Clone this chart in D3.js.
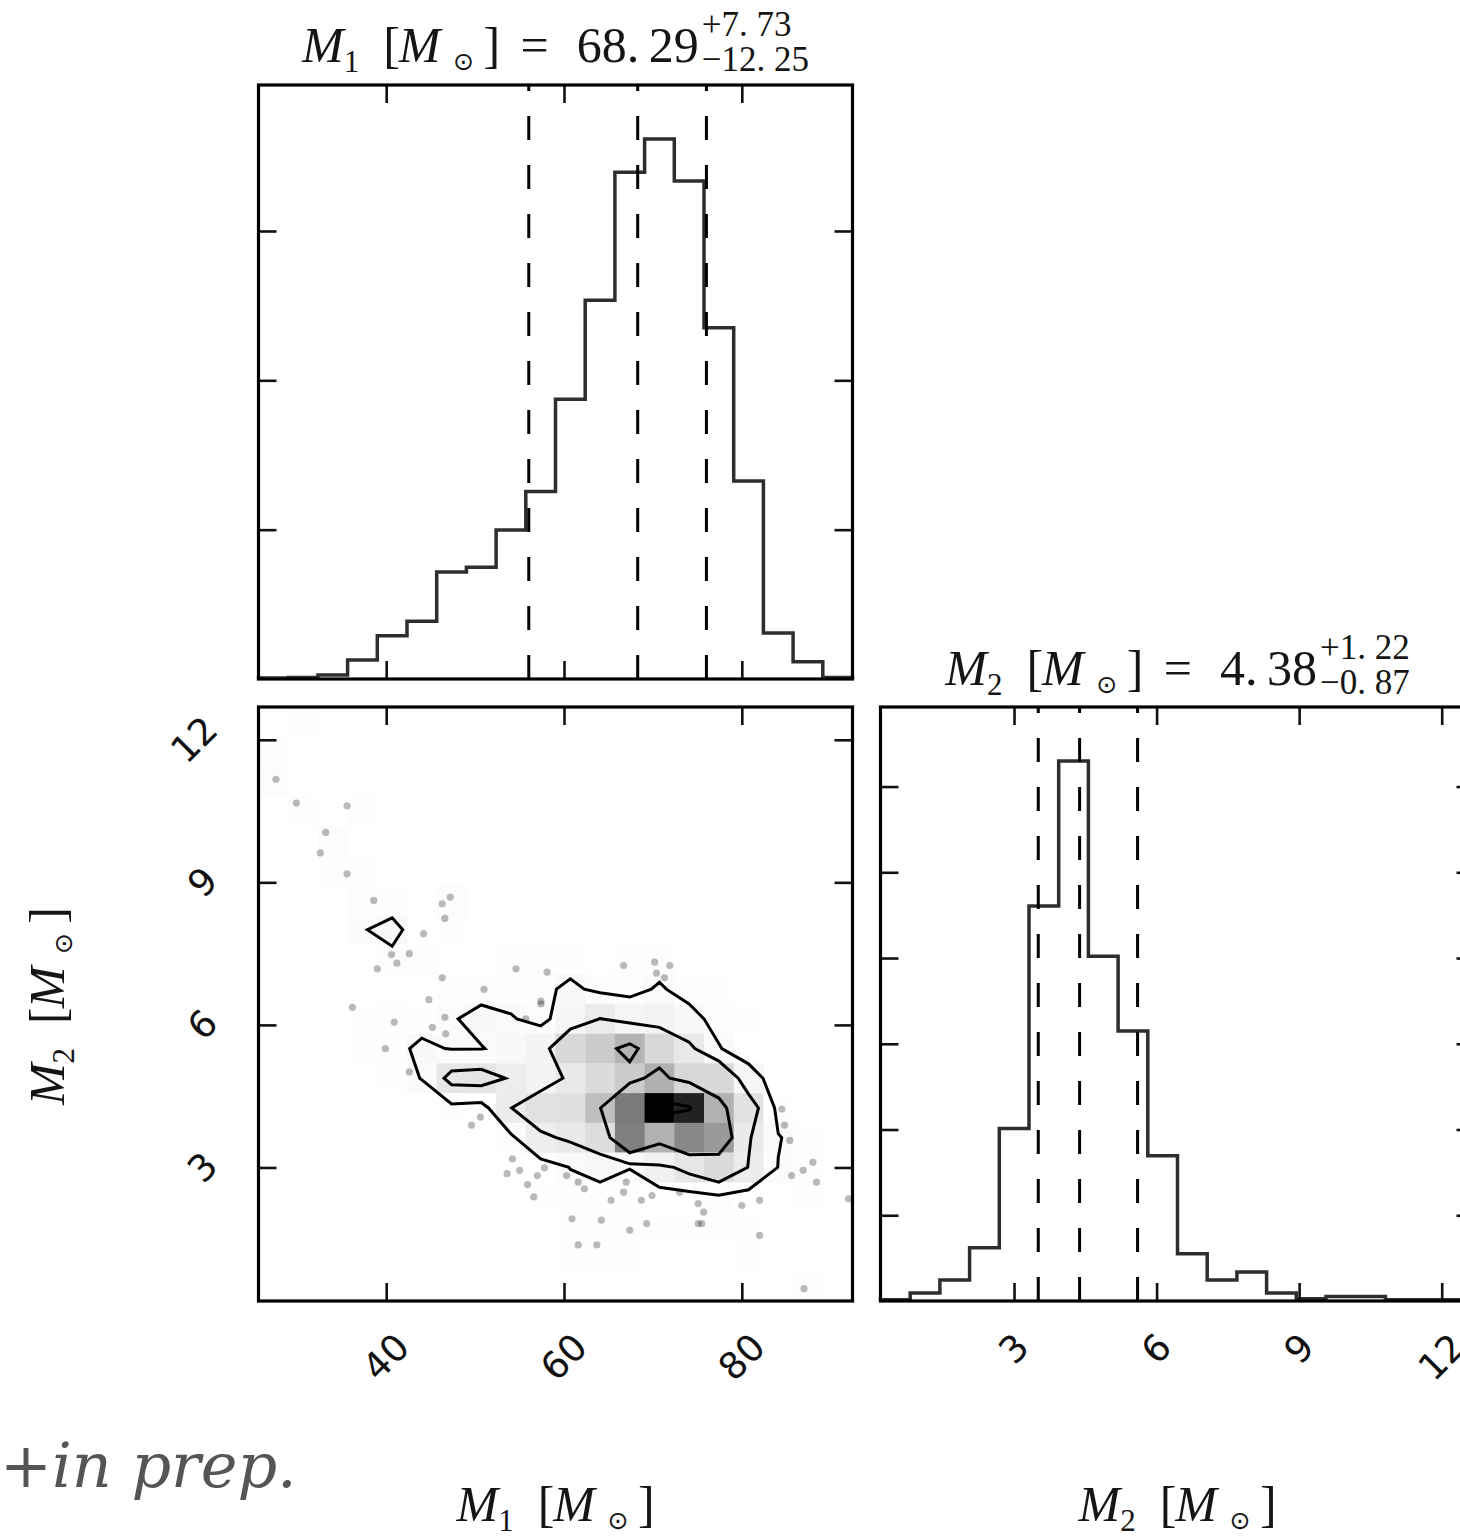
<!DOCTYPE html>
<html>
<head>
<meta charset="utf-8">
<script src="https://cdnjs.cloudflare.com/ajax/libs/d3/7.8.5/d3.min.js"></script>
<style>
  body { margin: 0; background: #fff; }
  svg { display: block; }
</style>
</head>
<body>
<svg id="chart" width="1460" height="1537"></svg>
<script>
// axis ranges of the two parameters (20 bins each)
var m1Domain = [25.64, 92.45];
var m2Domain = [0.19, 12.69];

// marginal histograms (counts per bin)
var m1Counts = [3, 5, 13, 64, 145, 193, 358, 374, 499, 628, 937, 1268, 1697, 1808, 1667, 1176, 663, 154, 58, 5];
var m2Counts = [8, 46, 123, 310, 1006, 2304, 3149, 2010, 1574, 847, 276, 123, 169, 46, 13, 26, 26, 8, 8, 8];

// 16 / 50 / 84 percent lines
var m1Quantiles = [56.04, 68.29, 76.02];
var m2Quantiles = [3.51, 4.38, 5.60];

var m1Ticks = [40, 60, 80];
var m2Ticks = [3, 6, 9, 12];
var m1CountTicks = [500, 1000, 1500];
var m2CountTicks = [500, 1000, 1500, 2000, 2500, 3000];

// joint 2d histogram, top row (highest M2) first, columns follow M1
var jointCounts = [
  [0, 8, 0, 0, 0, 0, 0, 0, 0, 0, 0, 0, 0, 0, 0, 0, 0, 0, 0, 0],
  [8, 0, 0, 0, 0, 0, 0, 0, 0, 0, 0, 0, 0, 0, 0, 0, 0, 0, 0, 0],
  [10, 0, 0, 0, 0, 0, 0, 0, 0, 0, 0, 0, 0, 0, 0, 0, 0, 0, 0, 0],
  [0, 8, 0, 8, 0, 0, 0, 0, 0, 0, 0, 0, 0, 0, 0, 0, 0, 0, 0, 0],
  [0, 0, 10, 0, 0, 0, 0, 0, 0, 0, 0, 0, 0, 0, 0, 0, 0, 0, 0, 0],
  [0, 0, 8, 4, 0, 0, 0, 0, 0, 0, 0, 0, 0, 0, 0, 0, 0, 0, 0, 0],
  [0, 0, 0, 8, 3, 0, 10, 0, 0, 0, 0, 0, 0, 0, 0, 0, 0, 0, 0, 0],
  [0, 0, 0, 16, 28, 0, 8, 0, 0, 0, 0, 0, 0, 0, 0, 0, 0, 0, 0, 0],
  [0, 0, 0, 0, 10, 6, 0, 0, 8, 8, 5, 0, 10, 8, 0, 0, 0, 0, 0, 0],
  [0, 0, 0, 0, 0, 0, 8, 10, 8, 10, 25, 10, 10, 21, 8, 3, 0, 0, 0, 0],
  [0, 0, 0, 5, 6, 5, 16, 25, 20, 10, 35, 76, 40, 45, 28, 8, 3, 0, 0, 0],
  [0, 0, 0, 3, 8, 25, 16, 17, 25, 44, 150, 200, 290, 150, 88, 20, 0, 0, 0, 0],
  [0, 0, 0, 0, 5, 19, 94, 100, 69, 45, 85, 140, 200, 303, 150, 150, 35, 0, 0, 0],
  [0, 0, 0, 0, 0, 0, 6, 0, 74, 115, 120, 245, 511, 980, 850, 300, 110, 5, 0, 0],
  [0, 0, 0, 0, 0, 0, 0, 0, 10, 64, 85, 130, 488, 300, 457, 388, 80, 20, 3, 0],
  [0, 0, 0, 0, 0, 0, 0, 0, 0, 0, 19, 31, 19, 55, 96, 140, 73, 17, 5, 0],
  [0, 0, 0, 0, 0, 0, 0, 0, 0, 5, 5, 5, 3, 0, 0, 10, 0, 0, 3, 0],
  [0, 0, 0, 0, 0, 0, 0, 0, 0, 0, 5, 5, 5, 5, 3, 3, 3, 0, 0, 0],
  [0, 0, 0, 0, 0, 0, 0, 0, 0, 0, 3, 3, 3, 0, 0, 0, 3, 0, 0, 0],
  [0, 0, 0, 0, 0, 0, 0, 0, 0, 0, 0, 0, 0, 0, 0, 0, 0, 0, 2, 0]
];
// contour levels (2, 1.5, 1, 0.5 sigma) in the same count units
var contourLevels = [18, 75, 250, 820];

// samples visible outside the outer contour [M1, M2]
var samples = [
  [27.6, 11.17], [29.9, 10.67], [35.6, 10.61], [33.2, 10.05], [32.6, 9.62], [35.6, 9.18],
  [38.6, 8.62], [46.3, 8.55], [47.2, 8.69], [46.6, 8.24], [44.2, 7.92], [40.6, 7.48],
  [42.6, 7.50], [41.2, 7.30], [39.0, 7.18], [46.3, 6.99], [51.0, 6.75], [54.6, 7.18],
  [58.1, 7.11], [44.8, 6.53], [57.4, 6.50], [36.2, 6.37], [40.9, 6.06], [39.9, 5.50],
  [42.6, 5.01], [45.2, 5.95], [46.7, 5.81], [46.6, 6.16], [49.6, 3.89], [50.6, 4.06],
  [54.2, 3.18], [53.6, 2.87], [55.0, 2.94], [55.9, 2.64], [56.6, 2.38], [57.0, 2.83],
  [57.8, 2.99], [55.7, 6.13], [57.4, 6.44], [66.7, 7.25], [70.2, 7.32], [71.9, 7.25],
  [70.4, 7.09], [71.3, 6.99], [60.3, 2.83], [61.6, 2.69], [62.3, 2.55], [66.7, 2.48],
  [65.3, 2.31], [67.0, 2.69], [69.9, 2.41], [68.7, 2.31], [73.0, 2.48], [75.1, 2.24],
  [75.7, 2.06], [75.1, 1.82], [75.5, 1.82], [80.0, 2.20], [82.0, 2.31], [82.0, 1.57],
  [60.9, 1.92], [64.2, 1.89], [67.4, 1.68], [69.3, 1.82], [61.6, 1.37], [63.7, 1.37],
  [84.5, 4.23], [84.8, 3.89], [85.4, 3.57], [85.6, 2.83], [86.9, 2.94], [88.0, 3.11],
  [88.4, 2.69], [87.0, 0.45], [92.0, 2.34]
];

var size = 594, gap = 28;
var panelLeft = 258.5, panelTop = 85;
var serif = "'Liberation Serif', 'DejaVu Serif', serif";
var sans = "'DejaVu Sans', sans-serif";
var tickLen = 18;
var labelFs = 50;

var svg = d3.select("#chart");

var x1 = d3.scaleLinear().domain(m1Domain).range([0, size]);
var x2 = d3.scaleLinear().domain(m2Domain).range([0, size]);
var yJoint = d3.scaleLinear().domain(m2Domain).range([size, 0]);
var yH1 = d3.scaleLinear().domain([0, 1.1 * d3.max(m1Counts)]).range([size, 0]);
var yH2 = d3.scaleLinear().domain([0, 1.1 * d3.max(m2Counts)]).range([size, 0]);

var gH1 = svg.append("g").attr("transform", "translate(" + panelLeft + "," + panelTop + ")");
var gJ = svg.append("g").attr("transform", "translate(" + panelLeft + "," + (panelTop + size + gap) + ")");
var gH2 = svg.append("g").attr("transform", "translate(" + (panelLeft + size + gap) + "," + (panelTop + size + gap) + ")");

function stepPoints(counts, domain) {
  var w = (domain[1] - domain[0]) / counts.length;
  var pts = [[domain[0], 0]];
  counts.forEach(function(c, i) {
    pts.push([domain[0] + i * w, c]);
    pts.push([domain[0] + (i + 1) * w, c]);
  });
  pts.push([domain[1], 0]);
  return pts;
}

function drawHist(g, counts, domain, xs, ys, quants) {
  var line = d3.line().x(function(d) { return xs(d[0]); }).y(function(d) { return ys(d[1]); });
  g.append("path")
    .attr("d", line(stepPoints(counts, domain)))
    .attr("fill", "none")
    .attr("stroke", "#2e2e2e")
    .attr("stroke-width", 3.5)
    .attr("stroke-linejoin", "miter");

  g.selectAll("line.quantile").data(quants).enter().append("line")
    .attr("class", "quantile")
    .attr("x1", function(d) { return xs(d); })
    .attr("x2", function(d) { return xs(d); })
    .attr("y1", size).attr("y2", 0)
    .attr("stroke", "#000")
    .attr("stroke-width", 3)
    .attr("stroke-dasharray", "24,25");
}

function drawTicks(g, xs, xVals, ys, yVals) {
  g.append("g").call(d3.axisBottom(xs).tickValues(xVals).tickSize(tickLen).tickFormat(""));
  g.append("g").attr("transform", "translate(0," + size + ")")
    .call(d3.axisTop(xs).tickValues(xVals).tickSize(tickLen).tickFormat(""));
  g.append("g").call(d3.axisRight(ys).tickValues(yVals).tickSize(tickLen).tickFormat(""));
  g.append("g").attr("transform", "translate(" + size + ",0)")
    .call(d3.axisLeft(ys).tickValues(yVals).tickSize(tickLen).tickFormat(""));
  g.selectAll(".domain").remove();
  g.selectAll(".tick line").attr("stroke", "#111").attr("stroke-width", 2.6);
  g.append("rect")
    .attr("width", size).attr("height", size)
    .attr("fill", "none").attr("stroke", "#000").attr("stroke-width", 3.2);
}

// rotated tick labels, placed like matplotlib (rotated box hung off the axis)
var tickFs = 37;
function xTickLabels(g, xs, vals) {
  vals.forEach(function(v) {
    var t = g.append("text")
      .attr("font-family", sans).attr("font-size", tickFs)
      .attr("text-anchor", "middle").attr("dominant-baseline", "central")
      .attr("fill", "#111")
      .text(v);
    var w = t.node().getComputedTextLength();
    var box = (w + 0.73 * tickFs) / Math.SQRT2;
    var cy = size + 30 + box / 2;
    t.attr("transform", "translate(" + xs(v) + "," + cy + ") rotate(-45)");
  });
}
function yTickLabels(g, ys, vals) {
  vals.forEach(function(v) {
    var t = g.append("text")
      .attr("font-family", sans).attr("font-size", tickFs)
      .attr("text-anchor", "middle").attr("dominant-baseline", "central")
      .attr("fill", "#111")
      .text(v);
    var w = t.node().getComputedTextLength();
    var box = (w + 0.73 * tickFs) / Math.SQRT2;
    var cx = -38 - box / 2;
    t.attr("transform", "translate(" + cx + "," + ys(v) + ") rotate(-45)");
  });
}

// math style label "M_i [M_sun]" with mathtext-like spacing (dx in em)
var massGaps = { bracket: 0.48, innerM: -0.02, sun: 0.25, close: 0.19 };
var valueGaps = { equals: 0.41, value: 0.56, decimals: 0.19 };

function massText(t, idx, fs) {
  t.append("tspan").attr("font-style", "italic").text("M");
  t.append("tspan").attr("font-size", fs * 0.62).attr("dy", fs * 0.2).text(idx);
  t.append("tspan").attr("dx", fs * massGaps.bracket).attr("dy", -fs * 0.2).text("[");
  t.append("tspan").attr("font-style", "italic").attr("dx", fs * massGaps.innerM).text("M");
  t.append("tspan").attr("font-size", fs * 0.5).attr("font-family", sans)
    .attr("dx", fs * massGaps.sun).attr("dy", fs * 0.16).text("\u2299");
  t.append("tspan").attr("dx", fs * massGaps.close).attr("dy", -fs * 0.16).text("]");
}

function titleText(cx, baseline, idx, valueParts, plus, minus) {
  var fs = labelFs;
  var g = svg.append("g");
  var t = g.append("text").attr("font-family", serif).attr("font-size", fs)
    .attr("fill", "#151515").attr("y", baseline);
  massText(t, idx, fs);
  t.append("tspan").attr("dx", fs * valueGaps.equals).text("=");
  t.append("tspan").attr("dx", fs * valueGaps.value).text(valueParts[0]);
  t.append("tspan").attr("dx", fs * valueGaps.decimals).text(valueParts[1]);
  var dxSum = d3.sum(Object.values(massGaps)) + d3.sum(Object.values(valueGaps));
  var w = t.node().getComputedTextLength() + fs * dxSum;
  var sfs = fs * 0.7;
  var sup = g.append("text").attr("font-family", serif).attr("font-size", sfs)
    .attr("fill", "#151515").attr("x", w + 3).attr("y", baseline - fs * 0.53).text(plus);
  var sub = g.append("text").attr("font-family", serif).attr("font-size", sfs)
    .attr("fill", "#151515").attr("x", w + 3).attr("y", baseline + fs * 0.18).text(minus);
  var total = w + 3 + Math.max(sup.node().getComputedTextLength(), sub.node().getComputedTextLength());
  g.attr("transform", "translate(" + (cx - total / 2) + ",0)");
}

function axisLabel(cx, cy, idx, rotate) {
  var fs = labelFs;
  var g = svg.append("g").attr("transform", "translate(" + cx + "," + cy + ")" + (rotate ? " rotate(-90)" : ""));
  var t = g.append("text").attr("font-family", serif).attr("font-size", fs)
    .attr("fill", "#151515").attr("text-anchor", "middle");
  massText(t, idx, fs);
}

// ---- top panel: M1 marginal ----
drawHist(gH1, m1Counts, m1Domain, x1, yH1, m1Quantiles);
drawTicks(gH1, x1, m1Ticks, yH1, m1CountTicks);

// ---- joint panel ----
var nb = jointCounts.length;
var w1 = (m1Domain[1] - m1Domain[0]) / nb;
var w2 = (m2Domain[1] - m2Domain[0]) / nb;
var hMax = d3.max(jointCounts, function(r) { return d3.max(r); });
var cells = [];
jointCounts.forEach(function(row, r) {
  row.forEach(function(v, c) { if (v > 0) cells.push({ r: r, c: c, v: v }); });
});
var grey = d3.scaleLinear().domain([0, hMax]).range([255, 0]);
gJ.selectAll("rect.cell").data(cells).enter().append("rect")
  .attr("class", "cell")
  .attr("x", function(d) { return x1(m1Domain[0] + d.c * w1); })
  .attr("y", function(d) { return yJoint(m2Domain[1] - d.r * w2); })
  .attr("width", x1(m1Domain[0] + w1) - x1(m1Domain[0]) + 0.4)
  .attr("height", yJoint(m2Domain[0]) - yJoint(m2Domain[0] + w2) + 0.4)
  .attr("fill", function(d) { var g = Math.round(grey(d.v)); return d3.rgb(g, g, g); });

gJ.selectAll("circle.sample").data(samples).enter().append("circle")
  .attr("class", "sample")
  .attr("cx", function(d) { return x1(d[0]); })
  .attr("cy", function(d) { return yJoint(d[1]); })
  .attr("r", 3.6)
  .attr("fill", "#000")
  .attr("fill-opacity", 0.27);

var contours = d3.contours().size([nb, nb]).thresholds(contourLevels)(d3.merge(jointCounts));
var gridProj = d3.geoTransform({
  point: function(gx, gy) {
    this.stream.point(x1(m1Domain[0] + gx * w1), yJoint(m2Domain[1] - gy * w2));
  }
});
gJ.selectAll("path.contour").data(contours).enter().append("path")
  .attr("class", "contour")
  .attr("d", d3.geoPath(gridProj))
  .attr("fill", "none")
  .attr("stroke", "#000")
  .attr("stroke-width", 3)
  .attr("stroke-linejoin", "miter");

drawTicks(gJ, x1, m1Ticks, yJoint, m2Ticks);
xTickLabels(gJ, x1, m1Ticks);
yTickLabels(gJ, yJoint, m2Ticks);

// ---- bottom right: M2 marginal ----
drawHist(gH2, m2Counts, m2Domain, x2, yH2, m2Quantiles);
drawTicks(gH2, x2, m2Ticks, yH2, m2CountTicks);
xTickLabels(gH2, x2, m2Ticks);

// ---- titles and labels ----
titleText(panelLeft + size / 2, 62, "1", ["68.", "29"], "+7. 73", "\u221212. 25");
titleText(panelLeft + size + gap + size / 2, 685, "2", ["4.", "38"], "+1. 22", "\u22120. 87");
axisLabel(panelLeft + size / 2, 1521, "1", false);
axisLabel(panelLeft + size + gap + size / 2, 1521, "2", false);
axisLabel(64, 1006, "2", true);

svg.append("text")
  .attr("x", 0).attr("y", 1487)
  .attr("font-family", "'DejaVu Serif', serif").attr("font-style", "italic")
  .attr("font-size", 62).attr("fill", "#555")
  .text("+in prep.");
</script>
</body>
</html>
